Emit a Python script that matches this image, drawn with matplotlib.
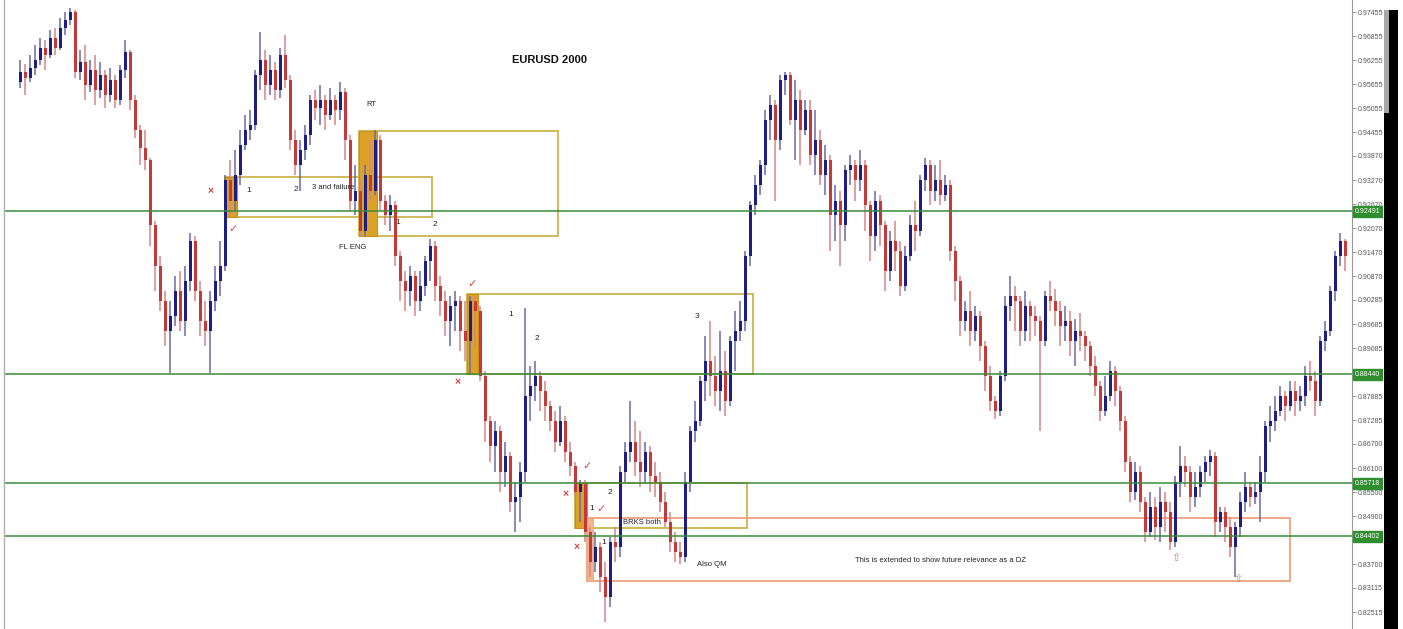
import matplotlib
matplotlib.use("Agg")
import matplotlib.pyplot as plt
from matplotlib.patches import Rectangle
from matplotlib.lines import Line2D

plt.rcParams['font.family'] = ['Liberation Sans', 'DejaVu Sans']

# ---------------- data: EURUSD daily candles, 2000 ----------------
opens = [0.9571,0.9596,0.9581,0.9606,0.9626,0.9656,0.9639,0.9681,0.9656,0.9706,
         0.9726,0.9746,0.9596,0.9621,0.9564,0.9601,0.9551,0.9589,0.9539,0.9576,
         0.9526,0.9601,0.9646,0.9526,0.9451,0.9406,0.9376,0.9214,0.9114,0.9026,
         0.8951,0.8989,0.9051,0.8976,0.9076,0.9176,0.9051,0.8976,0.8951,0.9026,
         0.9076,0.9114,0.9326,0.9276,0.9339,0.9414,0.9451,0.9464,0.9589,0.9626,
         0.9564,0.9601,0.9551,0.9639,0.9576,0.9426,0.9364,0.9401,0.9439,0.9526,
         0.9506,0.9526,0.9489,0.9526,0.9501,0.9546,0.9426,0.9276,0.9301,0.9201,
         0.9339,0.9301,0.9426,0.9276,0.9239,0.9264,0.9139,0.9076,0.9051,0.9089,
         0.9026,0.9064,0.9126,0.9164,0.9064,0.9026,0.8976,0.9014,0.9026,0.8951,
         0.8926,0.9026,0.9001,0.8839,0.8726,0.8664,0.8701,0.8601,0.8639,0.8526,
         0.8539,0.8601,0.8789,0.8814,0.8839,0.8801,0.8764,0.8726,0.8676,0.8726,
         0.8651,0.8614,0.8551,0.8571,0.8451,0.8376,0.8414,0.8339,0.8289,0.8426,
         0.8414,0.8601,0.8651,0.8676,0.8626,0.8601,0.8651,0.8589,0.8576,0.8526,
         0.8476,0.8426,0.8401,0.8389,0.8576,0.8701,0.8726,0.8826,0.8876,0.8839,
         0.8801,0.8851,0.8776,0.8926,0.8951,0.8976,0.9139,0.9264,0.9314,0.9364,
         0.9476,0.9514,0.9426,0.9576,0.9589,0.9476,0.9526,0.9451,0.9501,0.9389,
         0.9426,0.9339,0.9376,0.9239,0.9276,0.9214,0.9351,0.9364,0.9326,0.9364,
         0.9264,0.9189,0.9276,0.9214,0.9101,0.9176,0.9151,0.9064,0.9139,0.9214,
         0.9201,0.9326,0.9364,0.9301,0.9326,0.9289,0.9314,0.9151,0.9076,0.8976,
         0.9001,0.8951,0.8989,0.8914,0.8839,0.8776,0.8751,0.8839,0.9014,0.9039,
         0.9026,0.8951,0.9014,0.8989,0.8976,0.8926,0.9039,0.9026,0.9001,0.8964,
         0.8976,0.8926,0.8951,0.8939,0.8914,0.8864,0.8814,0.8751,0.8789,0.8851,
         0.8801,0.8726,0.8626,0.8551,0.8601,0.8526,0.8451,0.8514,0.8464,0.8526,
         0.8501,0.8426,0.8576,0.8614,0.8601,0.8539,0.8564,0.8601,0.8626,0.8639,
         0.8476,0.8501,0.8464,0.8414,0.8464,0.8526,0.8564,0.8539,0.8551,0.8601,
         0.8714,0.8726,0.8751,0.8789,0.8764,0.8801,0.8776,0.8789,0.8839,0.8826,
         0.8776,0.8926,0.8951,0.9051,0.9139,0.9176]
highs = [0.9626,0.9616,0.9639,0.9664,0.9681,0.9676,0.9701,0.9706,0.9731,0.9746,
         0.9756,0.9751,0.9651,0.9664,0.9626,0.9639,0.9621,0.9601,0.9606,0.9589,
         0.9614,0.9676,0.9651,0.9539,0.9464,0.9451,0.9381,0.9226,0.9139,0.9051,
         0.9026,0.9089,0.9101,0.9114,0.9196,0.9189,0.9076,0.9026,0.9051,0.9114,
         0.9176,0.9339,0.9376,0.9401,0.9451,0.9489,0.9501,0.9601,0.9696,0.9651,
         0.9639,0.9621,0.9656,0.9689,0.9589,0.9451,0.9426,0.9464,0.9539,0.9551,
         0.9564,0.9539,0.9556,0.9539,0.9571,0.9556,0.9439,0.9364,0.9326,0.9364,
         0.9426,0.9451,0.9439,0.9289,0.9289,0.9276,0.9151,0.9101,0.9114,0.9101,
         0.9101,0.9139,0.9181,0.9176,0.9089,0.9051,0.9039,0.9051,0.9039,0.9026,
         0.9039,0.9039,0.9014,0.8851,0.8739,0.8726,0.8714,0.8676,0.8651,0.8576,
         0.8626,0.9009,0.8864,0.8876,0.8851,0.8826,0.8776,0.8751,0.8764,0.8739,
         0.8676,0.8626,0.8581,0.8581,0.8464,0.8451,0.8426,0.8376,0.8439,0.8464,
         0.8614,0.8676,0.8776,0.8726,0.8701,0.8676,0.8664,0.8626,0.8601,0.8551,
         0.8501,0.8451,0.8426,0.8601,0.8714,0.8776,0.8839,0.8939,0.8976,0.8889,
         0.8951,0.8901,0.8939,0.9001,0.9026,0.9151,0.9276,0.9339,0.9376,0.9501,
         0.9539,0.9526,0.9589,0.9596,0.9596,0.9576,0.9551,0.9526,0.9526,0.9501,
         0.9451,0.9414,0.9389,0.9314,0.9301,0.9364,0.9389,0.9376,0.9401,0.9376,
         0.9276,0.9301,0.9289,0.9226,0.9201,0.9226,0.9176,0.9164,0.9239,0.9276,
         0.9339,0.9381,0.9376,0.9364,0.9376,0.9339,0.9326,0.9164,0.9089,0.9026,
         0.9051,0.9014,0.9001,0.8926,0.8864,0.8789,0.8851,0.9039,0.9089,0.9064,
         0.9039,0.9051,0.9026,0.9014,0.8989,0.9051,0.9076,0.9056,0.9026,0.9014,
         0.9001,0.8981,0.8996,0.8951,0.8926,0.8889,0.8826,0.8839,0.8876,0.8864,
         0.8814,0.8739,0.8639,0.8626,0.8614,0.8539,0.8551,0.8539,0.8564,0.8551,
         0.8526,0.8589,0.8664,0.8639,0.8614,0.8601,0.8614,0.8639,0.8656,0.8651,
         0.8514,0.8514,0.8489,0.8476,0.8551,0.8601,0.8576,0.8576,0.8639,0.8726,
         0.8764,0.8789,0.8814,0.8801,0.8826,0.8826,0.8814,0.8864,0.8876,0.8851,
         0.8939,0.8976,0.9064,0.9151,0.9196,0.9181]
lows  = [0.9556,0.9539,0.9571,0.9589,0.9614,0.9601,0.9631,0.9639,0.9651,0.9689,
         0.9714,0.9581,0.9576,0.9526,0.9546,0.9514,0.9531,0.9506,0.9521,0.9506,
         0.9514,0.9581,0.9501,0.9431,0.9364,0.9351,0.9164,0.9051,0.9001,0.8914,
         0.8846,0.8964,0.8951,0.8939,0.9051,0.9026,0.8939,0.8914,0.8846,0.9001,
         0.9039,0.9101,0.9239,0.9251,0.9314,0.9401,0.9426,0.9451,0.9551,0.9526,
         0.9539,0.9526,0.9531,0.9556,0.9401,0.9339,0.9301,0.9376,0.9414,0.9476,
         0.9464,0.9451,0.9476,0.9464,0.9476,0.9376,0.9251,0.9239,0.9189,0.9189,
         0.9276,0.9289,0.9251,0.9214,0.9201,0.9114,0.9026,0.9001,0.9014,0.8989,
         0.9001,0.9039,0.9076,0.9026,0.8989,0.8939,0.8914,0.8951,0.8901,0.8876,
         0.8846,0.8914,0.8826,0.8676,0.8626,0.8601,0.8551,0.8564,0.8501,0.8451,
         0.8476,0.8576,0.8726,0.8776,0.8751,0.8726,0.8701,0.8651,0.8664,0.8626,
         0.8589,0.8539,0.8476,0.8426,0.8339,0.8351,0.8301,0.8226,0.8264,0.8376,
         0.8389,0.8576,0.8626,0.8589,0.8564,0.8576,0.8551,0.8539,0.8501,0.8464,
         0.8401,0.8376,0.8371,0.8376,0.8551,0.8676,0.8714,0.8776,0.8789,0.8764,
         0.8751,0.8739,0.8764,0.8851,0.8926,0.8951,0.9114,0.9239,0.9289,0.9339,
         0.9426,0.9276,0.9401,0.9539,0.9464,0.9376,0.9364,0.9439,0.9364,0.9339,
         0.9314,0.9289,0.9151,0.9176,0.9114,0.9176,0.9314,0.9276,0.9301,0.9201,
         0.9126,0.9151,0.9164,0.9051,0.9076,0.9101,0.9039,0.9051,0.9126,0.9151,
         0.9189,0.9301,0.9264,0.9276,0.9264,0.9276,0.9126,0.9026,0.8939,0.8951,
         0.8914,0.8926,0.8876,0.8801,0.8751,0.8731,0.8739,0.8826,0.8976,0.8951,
         0.8914,0.8926,0.8926,0.8939,0.8701,0.8914,0.9001,0.8964,0.8914,0.8926,
         0.8889,0.8864,0.8901,0.8876,0.8839,0.8789,0.8726,0.8739,0.8776,0.8764,
         0.8701,0.8601,0.8526,0.8531,0.8501,0.8426,0.8439,0.8431,0.8426,0.8451,
         0.8406,0.8414,0.8539,0.8564,0.8501,0.8514,0.8539,0.8576,0.8589,0.8439,
         0.8451,0.8426,0.8389,0.8339,0.8439,0.8501,0.8514,0.8521,0.8476,0.8576,
         0.8676,0.8701,0.8739,0.8726,0.8751,0.8739,0.8751,0.8764,0.8801,0.8739,
         0.8764,0.8901,0.8939,0.9026,0.9114,0.9101]
closes = [0.9596,0.9581,0.9606,0.9626,0.9656,0.9639,0.9681,0.9656,0.9706,0.9726,
          0.9746,0.9596,0.9621,0.9564,0.9601,0.9551,0.9589,0.9539,0.9576,0.9526,
          0.9601,0.9646,0.9526,0.9451,0.9406,0.9376,0.9214,0.9114,0.9026,0.8951,
          0.8989,0.9051,0.8976,0.9076,0.9176,0.9051,0.8976,0.8951,0.9026,0.9076,
          0.9114,0.9326,0.9276,0.9339,0.9414,0.9451,0.9464,0.9589,0.9626,0.9564,
          0.9601,0.9551,0.9639,0.9576,0.9426,0.9364,0.9401,0.9439,0.9526,0.9506,
          0.9526,0.9489,0.9526,0.9501,0.9546,0.9426,0.9276,0.9301,0.9201,0.9339,
          0.9301,0.9426,0.9276,0.9239,0.9264,0.9139,0.9076,0.9051,0.9089,0.9026,
          0.9064,0.9126,0.9164,0.9064,0.9026,0.8976,0.9014,0.9026,0.8951,0.8926,
          0.9026,0.9001,0.8839,0.8726,0.8664,0.8701,0.8601,0.8639,0.8526,0.8539,
          0.8601,0.8789,0.8814,0.8839,0.8801,0.8764,0.8726,0.8676,0.8726,0.8651,
          0.8614,0.8551,0.8571,0.8451,0.8376,0.8414,0.8339,0.8289,0.8426,0.8414,
          0.8601,0.8651,0.8676,0.8626,0.8601,0.8651,0.8589,0.8576,0.8526,0.8476,
          0.8426,0.8401,0.8389,0.8576,0.8701,0.8726,0.8826,0.8876,0.8839,0.8801,
          0.8851,0.8776,0.8926,0.8951,0.8976,0.9139,0.9264,0.9314,0.9364,0.9476,
          0.9514,0.9426,0.9576,0.9589,0.9476,0.9526,0.9451,0.9501,0.9389,0.9426,
          0.9339,0.9376,0.9239,0.9276,0.9214,0.9351,0.9364,0.9326,0.9364,0.9264,
          0.9189,0.9276,0.9214,0.9101,0.9176,0.9151,0.9064,0.9139,0.9214,0.9201,
          0.9326,0.9364,0.9301,0.9326,0.9289,0.9314,0.9151,0.9076,0.8976,0.9001,
          0.8951,0.8989,0.8914,0.8839,0.8776,0.8751,0.8839,0.9014,0.9039,0.9026,
          0.8951,0.9014,0.8989,0.8976,0.8926,0.9039,0.9026,0.9001,0.8964,0.8976,
          0.8926,0.8951,0.8939,0.8914,0.8864,0.8814,0.8751,0.8789,0.8851,0.8801,
          0.8726,0.8626,0.8551,0.8601,0.8526,0.8451,0.8514,0.8464,0.8526,0.8501,
          0.8426,0.8576,0.8614,0.8601,0.8539,0.8564,0.8601,0.8626,0.8639,0.8476,
          0.8501,0.8464,0.8414,0.8464,0.8526,0.8564,0.8539,0.8551,0.8601,0.8714,
          0.8726,0.8751,0.8789,0.8764,0.8801,0.8776,0.8789,0.8839,0.8826,0.8776,
          0.8926,0.8951,0.9051,0.9139,0.9176,0.9139]

# horizontal support / resistance levels
levels = [0.92491, 0.88440, 0.85718, 0.84402]

# price-axis tick labels (0.88485 and 0.84300 sit under the level tags)
tick_values = [0.97455, 0.96855, 0.96255, 0.95655, 0.95055, 0.94455, 0.93870,
               0.93270, 0.92670, 0.92070, 0.91470, 0.90870, 0.90285, 0.89685,
               0.89085, 0.87885, 0.87285, 0.86700, 0.86100, 0.85500,
               0.84900, 0.83700, 0.83115, 0.82515]

# zones: (start bar, end bar, top, bottom)
zones_base = [(41.0, 43.4, 0.93347, 0.92351),
              (67.8, 71.4, 0.94492, 0.91878),
              (89.4, 91.6, 0.90433, 0.88441),
              (111.0, 113.4, 0.85727, 0.84607)]
zones_box = [(41.0, 82.4, 0.93347, 0.92351),
             (67.8, 107.6, 0.94492, 0.91878),
             (89.4, 146.6, 0.90433, 0.88441),
             (111.0, 145.4, 0.85727, 0.84607)]
dz_box = (113.4, 254.0, 0.84856, 0.83287)
dz_base = (113.4, 114.6, 0.84856, 0.83287)

# ---------------- figure ----------------
W, H = 1403, 629
fig = plt.figure(figsize=(W / 100, H / 100), dpi=100)
fig.patch.set_facecolor('white')
ax = fig.add_axes([5 / W, 0, 1347 / W, 1])
ax.set_facecolor('white')

n = len(closes)
idx = list(range(n))
up = [c >= o for o, c in zip(opens, closes)]
body_col = ['#1e1e82' if u else '#c43a3a' for u in up]
wick_col = ['#6a6aa8' if u else '#d68686' for u in up]
bottoms = [min(o, c) for o, c in zip(opens, closes)]
heights = [max(abs(c - o), 0.0002) for o, c in zip(opens, closes)]

ax.vlines(idx, lows, highs, colors=wick_col, lw=1.1, zorder=3)
ax.bar(idx, heights, bottom=bottoms, width=0.6, color=body_col, zorder=4,
       linewidth=0)

# zones
for (x0, x1, top, bot) in zones_box:
    ax.add_patch(Rectangle((x0, bot), x1 - x0, top - bot, fill=False,
                           ec='#cbb44c', lw=1.3, zorder=2))
for (x0, x1, top, bot) in zones_base:
    ax.add_patch(Rectangle((x0, bot), x1 - x0, top - bot, fc='#dba227',
                           ec='#c8901a', lw=0.8, zorder=2))
x0, x1, top, bot = dz_box
ax.add_patch(Rectangle((x0, bot), x1 - x0, top - bot, fill=False,
                       ec='#eda27e', lw=1.3, zorder=2))
x0, x1, top, bot = dz_base
ax.add_patch(Rectangle((x0, bot), x1 - x0, top - bot, fc='#f4b48f',
                       ec='#eda27e', lw=0.6, zorder=2))

# horizontal levels
for lv in levels:
    ax.axhline(lv, color='#3a8c3a', lw=1.1, zorder=5)
    ax.text(1.002, lv, f"{lv:.5f}", transform=ax.get_yaxis_transform(),
            ha='left', va='center', fontsize=5, color='white', zorder=10,
            clip_on=False,
            bbox=dict(boxstyle='square,pad=0.28', fc='#2f8f2f', ec='#2f8f2f'))

ax.set_xlim(-3, 266.4)
ax.set_ylim(0.82092, 0.97754)
ax.set_xticks([])
ax.yaxis.tick_right()
ax.set_yticks(tick_values)
ax.set_yticklabels([f"{t:.5f}" for t in tick_values])
ax.tick_params(axis='y', length=3, width=0.6, colors='#888888',
               labelcolor='#555555', labelsize=5, pad=1)
for s in ['left', 'top', 'bottom']:
    ax.spines[s].set_visible(False)
ax.spines['right'].set_color('#999999')
ax.spines['right'].set_linewidth(0.8)

# left border and right scrollbar
fig.add_artist(Line2D([4 / W, 4 / W], [0, 1], color='#b0b0b0', lw=1))
fig.add_artist(Rectangle((1384 / W, 0), 14 / W, 1 - 10 / H,
                         transform=fig.transFigure, fc='black', ec='none'))
fig.add_artist(Rectangle((1384 / W, 1 - 113 / H), 5 / W, 103 / H,
                         transform=fig.transFigure, fc='#a8a8a8', ec='none'))


def t(xp, yp, s, size=5.5, color='#222222', weight='normal', ha='center'):
    fig.text(xp / W, 1 - yp / H, s, fontsize=size, color=color,
             fontweight=weight, ha=ha, va='center', zorder=20)


t(550, 60, "EURUSD 2000", size=8, weight='bold', color='#111111')
t(371, 105, "RT")
t(249, 190, "1", size=6)
t(296, 189, "2", size=6)
t(333, 187, "3 and failure")
t(353, 247, "FL ENG")
t(398, 223, "1", size=6)
t(435, 224, "2", size=6)
t(511, 315, "1", size=6)
t(537, 338, "2", size=6)
t(697, 317, "3", size=6)
t(610, 493, "2", size=6)
t(592, 509, "1", size=6)
t(604, 543, "1", size=6)
t(642, 522, "BRKS both")
t(712, 565, "Also QM")
t(855, 561, "This is extended to show future relevance as a DZ", ha='left')

red = '#d24a4a'
for (xp, yp) in [(211, 191), (458, 382), (566, 494), (577, 547)]:
    t(xp, yp, "×", size=7.5, color=red, weight='bold')
for (xp, yp) in [(233, 229), (472, 284), (587, 466), (601, 509)]:
    t(xp, yp, "✓", size=8, color=red)
for (xp, yp) in [(1176, 558), (1238, 579)]:
    t(xp, yp, "⇧", size=8, color='#e07a7a')

fig.savefig("out.png", dpi=100, facecolor='white')
